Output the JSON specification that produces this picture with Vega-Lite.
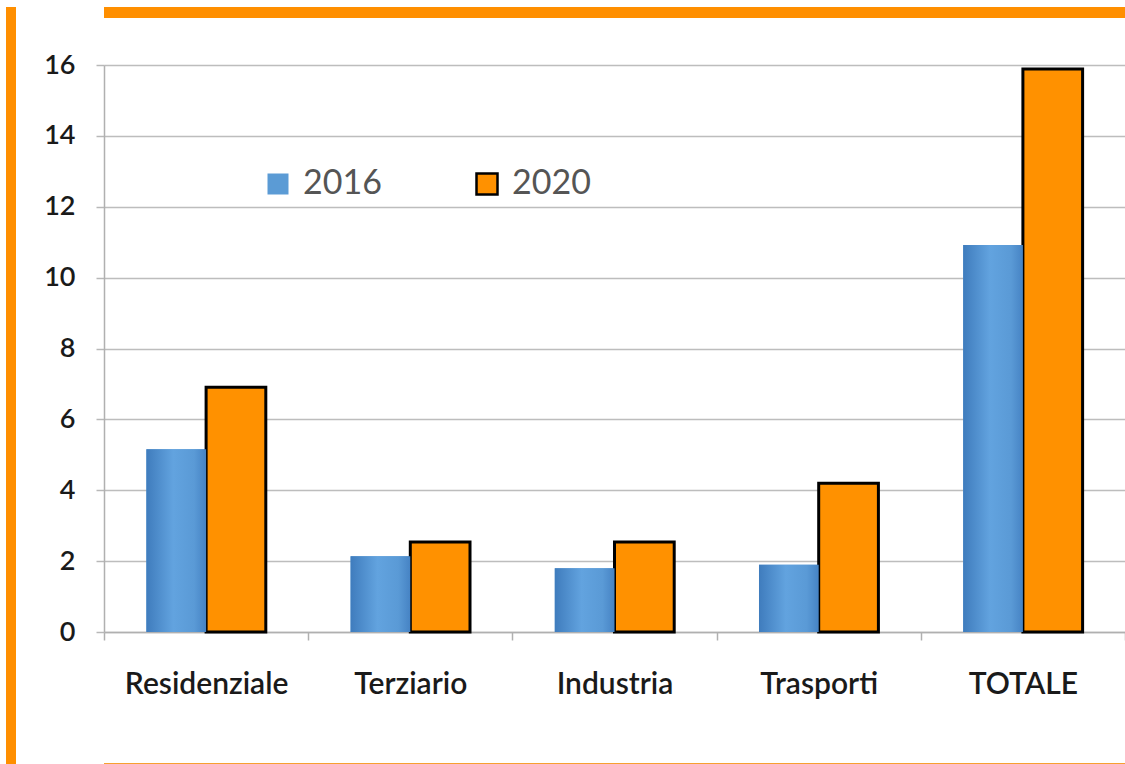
{
  "$schema": "https://vega.github.io/schema/vega-lite/v6.json",
  "background": "white",
  "padding": {"left": 6, "top": 7, "right": 0, "bottom": 0},
  "bounds": "full",
  "spacing": 0,
  "config": {"font": "Lato"},
  "hconcat": [
    {
      "width": 10,
      "height": 757,
      "view": {"fill": "#FF8F00", "stroke": null},
      "data": {"values": []},
      "mark": {"type": "point", "opacity": 0},
      "encoding": {}
    },
    {
      "bounds": "full",
      "spacing": 33,
      "vconcat": [
        {
          "width": 1021,
          "height": 11,
          "view": {"fill": "#FF8F00", "stroke": null},
          "data": {"values": []},
          "mark": {"type": "point", "opacity": 0},
          "encoding": {}
        },
        {
          "width": 1021,
          "height": 567,
          "view": {"stroke": null},
          "data": {
            "values": [
              {"sector": "Residenziale", "year": "2016", "value": 5.16},
              {"sector": "Residenziale", "year": "2020", "value": 6.91},
              {"sector": "Terziario", "year": "2016", "value": 2.14},
              {"sector": "Terziario", "year": "2020", "value": 2.54},
              {"sector": "Industria", "year": "2016", "value": 1.8},
              {"sector": "Industria", "year": "2020", "value": 2.54},
              {"sector": "Trasporti", "year": "2016", "value": 1.9},
              {"sector": "Trasporti", "year": "2020", "value": 4.2},
              {"sector": "TOTALE", "year": "2016", "value": 10.92},
              {"sector": "TOTALE", "year": "2020", "value": 15.89}
            ]
          },
          "encoding": {
            "x": {
              "field": "sector",
              "type": "nominal",
              "sort": ["Residenziale", "Terziario", "Industria", "Trasporti", "TOTALE"],
              "scale": {"paddingInner": 0, "paddingOuter": 0, "align": 0},
              "axis": {
                "title": null,
                "labelAngle": 0,
                "labelFont": "Lato",
                "labelFontSize": 30,
                "labelFontWeight": 600,
                "labelColor": "#1a1a1a",
                "labelPadding": 29,
                "tickSize": 8,
                "tickColor": "#b0b0b0",
                "tickWidth": 1.5,
                "tickBand": "extent",
                "domainColor": "#b0b0b0",
                "domainWidth": 1.5,
                "minExtent": 98,
                "maxExtent": 98,
                "grid": false
              }
            },
            "xOffset": {
              "field": "year",
              "type": "nominal",
              "scale": {"domain": ["2016", "2020"], "paddingInner": 0, "paddingOuter": 0.71}
            },
            "y": {
              "field": "value",
              "type": "quantitative",
              "scale": {"domain": [0, 16], "nice": false},
              "axis": {
                "title": null,
                "values": [0, 2, 4, 6, 8, 10, 12, 14, 16],
                "labelFont": "Lato",
                "labelFontSize": 27,
                "labelFontWeight": 600,
                "labelColor": "#1a1a1a",
                "labelPadding": 21,
                "tickSize": 8,
                "tickColor": "#b8b8b8",
                "tickWidth": 1.5,
                "domainColor": "#b0b0b0",
                "domainWidth": 1.5,
                "gridColor": "#bdbdbd",
                "gridWidth": 1.5,
                "minExtent": 88,
                "maxExtent": 88
              }
            }
          },
          "layer": [
            {
              "mark": {"type": "bar", "strokeWidth": 3, "opacity": 1},
              "encoding": {
                "color": {
                  "field": "year",
                  "type": "nominal",
                  "scale": {"domain": ["2016", "2020"], "range": ["#5B9BD5", "#FF9100"]},
                  "legend": {
                    "orient": "none",
                    "legendX": 255,
                    "legendY": 160,
                    "direction": "horizontal",
                    "title": null,
                    "padding": 0,
                    "symbolType": "square",
                    "symbolSize": 441,
                    "symbolStrokeWidth": 2.5,
                    "symbolOpacity": 1,
                    "labelFont": "Lato",
                    "labelFontSize": 34,
                    "labelColor": "#555555",
                    "labelOffset": 8,
                    "columnPadding": 88
                  }
                },
                "stroke": {
                  "field": "year",
                  "type": "nominal",
                  "scale": {"domain": ["2016", "2020"], "range": ["transparent", "#000000"]},
                  "legend": {
                    "orient": "none",
                    "legendX": 255,
                    "legendY": 160,
                    "direction": "horizontal",
                    "title": null,
                    "padding": 0,
                    "symbolType": "square",
                    "symbolSize": 441,
                    "symbolStrokeWidth": 2.5,
                    "symbolOpacity": 1,
                    "labelFont": "Lato",
                    "labelFontSize": 34,
                    "labelColor": "#555555",
                    "labelOffset": 8,
                    "columnPadding": 88
                  }
                }
              }
            },
            {
              "transform": [{"filter": "datum.year == '2016'"}],
              "mark": {
                "type": "bar",
                "color": {
                  "gradient": "linear",
                  "x1": 0, "y1": 0, "x2": 1, "y2": 0,
                  "stops": [
                    {"offset": 0, "color": "#3f7cbd"},
                    {"offset": 0.45, "color": "#62a3df"},
                    {"offset": 0.8, "color": "#5a9ad6"},
                    {"offset": 1, "color": "#4683c4"}
                  ]
                }
              }
            }
          ]
        },
        {
          "width": 1021,
          "height": 2,
          "view": {"fill": "#F7A030", "stroke": null},
          "data": {"values": []},
          "mark": {"type": "point", "opacity": 0},
          "encoding": {}
        }
      ]
    }
  ]
}
